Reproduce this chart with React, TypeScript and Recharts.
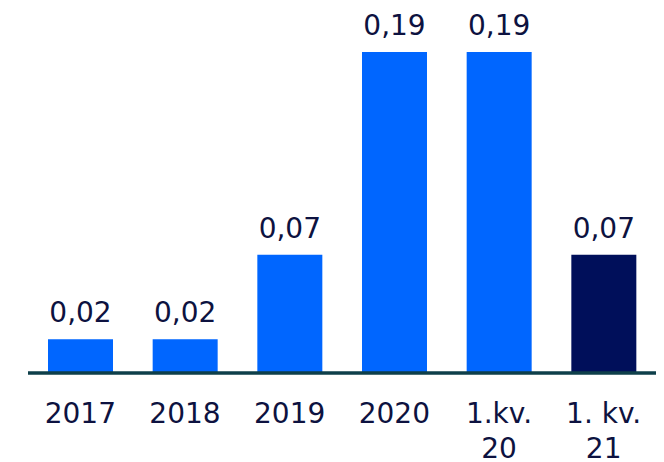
import { BarChart, Bar, XAxis, YAxis, Cell, LabelList } from 'recharts';

const CATEGORIES = ['2017', '2018', '2019', '2020', '1.kv.\n20', '1. kv.\n21'];
const VALUES = [0.02, 0.02, 0.07, 0.19, 0.19, 0.07];

const COLOR_BAR = '#0066FF';
const COLOR_LAST = '#000F5A';
const COLOR_TEXT = '#0D1240';
const COLOR_AXIS = '#0E3F4A';
const FONT = '"DejaVu Sans", Verdana, sans-serif';

const data = CATEGORIES.map((name, i) => ({ name, value: VALUES[i] }));

const fmt = (v: number) => v.toFixed(2).replace('.', ',');

function Tick(props: any) {
  const { x, y, payload } = props;
  const lines = String(payload.value).split('\n');
  return (
    <text x={x} y={y + 50} textAnchor="middle" fill={COLOR_TEXT} fontSize={28} fontFamily={FONT}>
      {lines.map((l, i) => (
        <tspan key={i} x={x} dy={i === 0 ? 0 : 35}>{l}</tspan>
      ))}
    </text>
  );
}

export default function App() {
  return (
    <div style={{ position: 'absolute', left: 0, top: 0, background: '#fff' }}>
      <BarChart
        width={664}
        height={462}
        data={data}
        margin={{ top: 52, right: 8, bottom: 0, left: 28 }}
        barCategoryGap={0}
      >
        <XAxis
          dataKey="name"
          height={89}
          interval={0}
          tickLine={false}
          tickSize={0}
          tickMargin={0}
          axisLine={{ stroke: COLOR_AXIS, strokeWidth: 3.5 }}
          tick={<Tick />}
        />
        <YAxis hide domain={[0, 0.19]} />
        <Bar dataKey="value" barSize={65} isAnimationActive={false}>
          {data.map((d, i) => (
            <Cell key={d.name} fill={i === data.length - 1 ? COLOR_LAST : COLOR_BAR} />
          ))}
          <LabelList
            dataKey="value"
            position="top"
            offset={17}
            formatter={(v: any) => fmt(Number(v))}
            fill={COLOR_TEXT}
            fontSize={28}
            fontFamily={FONT}
          />
        </Bar>
      </BarChart>
    </div>
  );
}
